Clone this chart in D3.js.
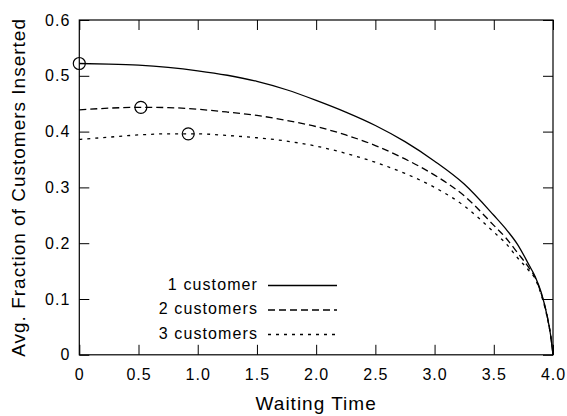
<!DOCTYPE html>
<html>
<head>
<meta charset="utf-8">
<script src="https://cdn.jsdelivr.net/npm/d3@7"></script>
<style>
  body { margin: 0; background: #fff; }
  text { font-family: "Liberation Sans", Arial, Helvetica, sans-serif; fill: #000; }
</style>
</head>
<body>
<div id="chart"></div>
<script>
// data
var waitTime = [0, 0.25, 0.5, 0.75, 1.0, 1.25, 1.5, 1.75, 2.0, 2.25, 2.5, 2.75, 3.0, 3.25, 3.5, 3.6, 3.7, 3.8, 3.85, 3.9, 3.95, 3.98, 4.0];
var oneCustomer = [0.522, 0.521, 0.519, 0.515, 0.509, 0.501, 0.490, 0.475, 0.456, 0.435, 0.411, 0.382, 0.347, 0.306, 0.250, 0.226, 0.198, 0.160, 0.140, 0.112, 0.070, 0.035, 0];
var twoCustomers = [0.439, 0.442, 0.4435, 0.443, 0.440, 0.435, 0.429, 0.420, 0.409, 0.394, 0.375, 0.351, 0.322, 0.285, 0.232, 0.210, 0.183, 0.155, 0.138, 0.110, 0.070, 0.035, 0];
var threeCustomers = [0.386, 0.390, 0.394, 0.396, 0.396, 0.393, 0.389, 0.383, 0.374, 0.361, 0.345, 0.325, 0.300, 0.267, 0.220, 0.200, 0.174, 0.150, 0.136, 0.108, 0.068, 0.034, 0];

// maxima marked with circles
var peakX = [0, 0.52, 0.92];
var peakY = [0.522, 0.4435, 0.396];

var seriesNames = ["1 customer", "2 customers", "3 customers"];
var xTicks = [0, 0.5, 1.0, 1.5, 2.0, 2.5, 3.0, 3.5, 4.0];
var xTickLabels = ["0", "0.5", "1.0", "1.5", "2.0", "2.5", "3.0", "3.5", "4.0"];
var yTicks = [0, 0.1, 0.2, 0.3, 0.4, 0.5, 0.6];
var yTickLabels = ["0", "0.1", "0.2", "0.3", "0.4", "0.5", "0.6"];

var svgWidth = 567;
var svgHeight = 416;

var svg = d3.select("#chart")
  .append("svg")
  .attr("width", svgWidth)
  .attr("height", svgHeight);

var xScale = d3.scaleLinear().domain([0, 4]).range([79.3, 553]);
var yScale = d3.scaleLinear().domain([0, 0.6]).range([354.8, 20]);

var plotLeft = xScale(0), plotRight = xScale(4), plotTop = yScale(0.6), plotBottom = yScale(0);

// axes with inward ticks
var bottomAxis = d3.axisBottom(xScale)
  .tickValues(xTicks)
  .tickFormat((d, i) => xTickLabels[i])
  .tickSizeInner(-10).tickSizeOuter(0).tickPadding(14);
var leftAxis = d3.axisLeft(yScale)
  .tickValues(yTicks)
  .tickFormat((d, i) => yTickLabels[i])
  .tickSizeInner(-10).tickSizeOuter(0).tickPadding(9);
var topAxis = d3.axisTop(xScale)
  .tickValues(xTicks).tickFormat("")
  .tickSizeInner(-10).tickSizeOuter(0);
var rightAxis = d3.axisRight(yScale)
  .tickValues(yTicks).tickFormat("")
  .tickSizeInner(-10).tickSizeOuter(0);

function drawAxis(axis, transform) {
  var g = svg.append("g").attr("transform", transform).call(axis);
  g.select(".domain").remove();
  g.selectAll("line").attr("stroke", "#000").attr("stroke-width", 1);
  g.selectAll("text")
    .style("font-size", "16px")
    .style("letter-spacing", "1px")
    .style("font-family", "'Liberation Sans', Arial, sans-serif")
    .attr("fill", "#000");
  return g;
}

drawAxis(bottomAxis, `translate(0, ${plotBottom})`);
drawAxis(leftAxis, `translate(${plotLeft}, 0)`);
drawAxis(topAxis, `translate(0, ${plotTop})`);
drawAxis(rightAxis, `translate(${plotRight}, 0)`);

// frame
svg.append("rect")
  .attr("x", plotLeft)
  .attr("y", plotTop)
  .attr("width", plotRight - plotLeft)
  .attr("height", plotBottom - plotTop)
  .attr("fill", "none")
  .attr("stroke", "#000")
  .attr("stroke-width", 1.2);

// curves
var dashes = [null, "7,4", "3,5"];
var allSeries = [oneCustomer, twoCustomers, threeCustomers];

var line = d3.line()
  .x(d => xScale(d[0]))
  .y(d => yScale(d[1]))
  .curve(d3.curveMonotoneX);

allSeries.forEach(function(values, i) {
  var pts = waitTime.map((x, j) => [x, values[j]]);
  svg.append("path")
    .datum(pts)
    .attr("d", line)
    .attr("fill", "none")
    .attr("stroke", "#000")
    .attr("stroke-width", 1.3)
    .attr("stroke-dasharray", dashes[i]);
});

// peak markers
svg.selectAll("circle.peak")
  .data(peakX)
  .enter()
  .append("circle")
  .attr("class", "peak")
  .attr("cx", d => xScale(d))
  .attr("cy", (d, i) => yScale(peakY[i]))
  .attr("r", 6)
  .attr("fill", "none")
  .attr("stroke", "#000")
  .attr("stroke-width", 1.2);

// legend
var legendY = [284, 308.5, 333];
seriesNames.forEach(function(name, i) {
  svg.append("text")
    .attr("x", 258)
    .attr("y", legendY[i])
    .attr("dy", "0.35em")
    .attr("text-anchor", "end")
    .style("font-size", "16px")
    .style("letter-spacing", "1.1px")
    .text(name);
  svg.append("line")
    .attr("x1", 268)
    .attr("x2", 337)
    .attr("y1", legendY[i] + 1.5)
    .attr("y2", legendY[i] + 1.5)
    .attr("stroke", "#000")
    .attr("stroke-width", 1.3)
    .attr("stroke-dasharray", dashes[i]);
});

// axis titles
svg.append("text")
  .attr("x", (plotLeft + plotRight) / 2)
  .attr("y", 410)
  .attr("text-anchor", "middle")
  .style("font-size", "19px")
  .style("letter-spacing", "1px")
  .text("Waiting Time");

svg.append("text")
  .attr("transform", `translate(25, ${(plotTop + plotBottom) / 2}) rotate(-90)`)
  .attr("text-anchor", "middle")
  .style("font-size", "19px")
  .style("letter-spacing", "1px")
  .text("Avg. Fraction of Customers Inserted");
</script>
</body>
</html>
